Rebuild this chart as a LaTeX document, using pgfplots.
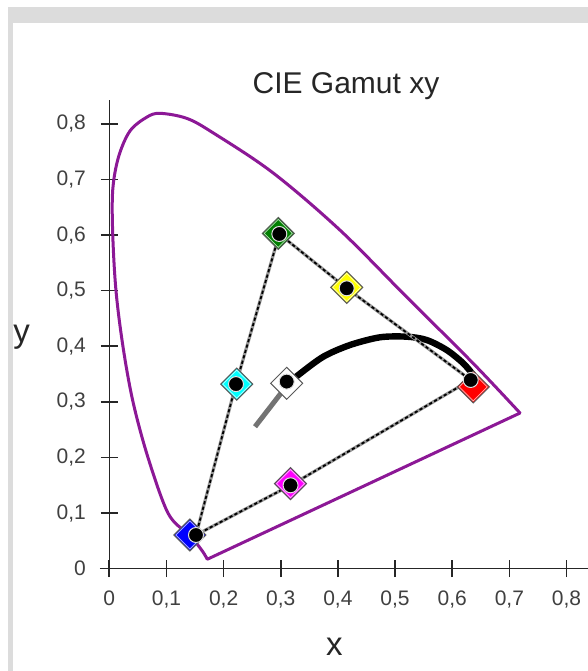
\documentclass[border=0pt]{standalone}
\usepackage{fontspec}
\setmainfont{Liberation Sans}
\usepackage{pgfplots}
\pgfplotsset{compat=1.18}
\definecolor{locus}{RGB}{140,24,150}
\definecolor{framegray}{RGB}{220,220,220}
\definecolor{tred}{RGB}{255,0,0}
\definecolor{tgreen}{RGB}{0,128,0}
\definecolor{tblue}{RGB}{0,0,255}
\definecolor{tcyan}{RGB}{0,255,255}
\definecolor{tmagenta}{RGB}{255,0,255}
\definecolor{tyellow}{RGB}{255,255,0}
\definecolor{twhite}{RGB}{255,255,255}

\begin{document}
\begin{tikzpicture}
% page frame (1px = 0.5pt, origin of the axis at tikz (0,0))
\fill[white] (-54.65pt,-51.15pt) rectangle (239.35pt,284.35pt);
\fill[framegray] (-50.65pt,272.85pt) rectangle (239.35pt,280.85pt);
\fill[framegray] (-50.65pt,-51.15pt) rectangle (-48.15pt,280.85pt);

\begin{axis}[
  anchor=origin, at={(0pt,0pt)},
  x=285.75pt, y=278pt,
  xmin=-0.0163, xmax=0.85, ymin=-0.015, ymax=0.843,
  axis lines=middle,
  axis line style={-, black!85, line width=0.75pt},
  hide obscured x ticks=false, hide obscured y ticks=false,
  xtick={0,0.1,0.2,0.3,0.4,0.5,0.6,0.7,0.8},
  ytick={0,0.1,0.2,0.3,0.4,0.5,0.6,0.7,0.8},
  xtick align=center, ytick align=center, major tick length=8.4pt,
  tick style={black!85, line width=0.8pt},
  /pgf/number format/.cd, use comma, fixed, precision=1, assume math mode=true,
  /pgfplots/.cd,
  xticklabel style={font=\fontsize{10.5}{12}\selectfont, text=black!75, inner sep=0pt, anchor=north, yshift=-6.8pt},
  yticklabel style={font=\fontsize{10.5}{12}\selectfont, text=black!75, inner sep=0pt, anchor=east, xshift=-7.3pt},
  title={CIE Gamut xy},
  every axis title/.style={at={(axis description cs:0.4969,1.0136)}, anchor=base, font=\fontsize{15}{18}\selectfont, text=black!85},
  xlabel={x}, ylabel={y},
  every axis x label/.style={at={(axis description cs:0.4733,-0.1466)}, anchor=center, font=\fontsize{16.5}{19}\selectfont, text=black!85},
  every axis y label/.style={at={(axis description cs:-0.1581,0.5021)}, anchor=center, font=\fontsize{16.5}{19}\selectfont, text=black!85},
  clip=false,
]
% spectral locus
\addplot[locus, line width=1.5pt, smooth, tension=0.55] coordinates {
  (0.1715,0.017) (0.164,0.030) (0.150,0.049) (0.136,0.064) (0.1027,0.100) (0.0677,0.200)
  (0.0415,0.300) (0.024,0.399) (0.0117,0.500) (0.006,0.602) (0.006,0.681)
  (0.016,0.740) (0.036,0.787) (0.0654,0.812) (0.0887,0.819) (0.1354,0.810)
  (0.1815,0.784) (0.2864,0.712) (0.4036,0.609) (0.520,0.489) (0.636,0.370)
  (0.7187,0.280)
};
\addplot[locus, line width=1.5pt, line cap=round] coordinates {(0.7187,0.280) (0.1715,0.017)};

% planckian locus
\addplot[black!55, line width=2.5pt, smooth] coordinates {
  (0.255,0.2554) (0.2957,0.3094) (0.313,0.333)
};
\addplot[black, line width=3.2pt, smooth] coordinates {
  (0.313,0.333) (0.3307,0.3484) (0.3745,0.3813) (0.4212,0.4023) (0.4737,0.4162)
  (0.5204,0.4173) (0.5554,0.4113) (0.5904,0.3933) (0.6194,0.3694) (0.6369,0.3484)
};

% measured gamut
\addplot[black!40, line width=1.6pt] coordinates {
  (0.2975,0.602) (0.4154,0.5043) (0.6324,0.3394) (0.3172,0.150)
  (0.1517,0.0606) (0.2217,0.332) (0.2975,0.602)
};
\addplot[black, line width=0.9pt, dash pattern=on 1.6pt off 1.2pt] coordinates {
  (0.2975,0.602) (0.4154,0.5043) (0.6324,0.3394) (0.3172,0.150)
  (0.1517,0.0606) (0.2217,0.332) (0.2975,0.602)
};

% targets
\pgfplotsset{target/.style={only marks, mark=square*, mark size=5.66pt,
  mark options={rotate=45, draw=black!65, line width=0.5pt, fill=#1}}}
\addplot[target=tred] coordinates {(0.637,0.327)};
\addplot[target=tgreen] coordinates {(0.2957,0.603)};
\addplot[target=tblue] coordinates {(0.141,0.0606)};
\addplot[target=tcyan] coordinates {(0.223,0.332)};
\addplot[target=tmagenta] coordinates {(0.317,0.153)};
\addplot[target=tyellow] coordinates {(0.4154,0.506)};
\addplot[target=twhite] coordinates {(0.3104,0.3335)};
% light inner rim of the targets
\addplot[only marks, mark=square, mark size=4.95pt, mark options={rotate=45, draw=white, line width=0.35pt, opacity=0.7}] coordinates {
  (0.637,0.327) (0.2957,0.603) (0.141,0.0606) (0.223,0.332) (0.317,0.153) (0.4154,0.506)
};

% measurements
\addplot[only marks, mark=*, mark size=3.75pt, mark options={fill=black, draw=black!12, line width=0.5pt}] coordinates {
  (0.2975,0.602) (0.4154,0.5043) (0.6324,0.3394) (0.3104,0.3365)
  (0.2217,0.332) (0.3172,0.150) (0.1517,0.0606)
};
\end{axis}
\pgfresetboundingbox
\path[use as bounding box] (-54.65pt,-51.15pt) rectangle (239.35pt,284.35pt);
\end{tikzpicture}
\end{document}
